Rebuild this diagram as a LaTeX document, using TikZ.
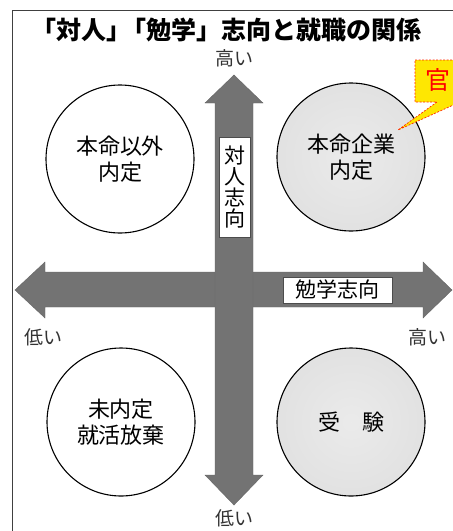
\documentclass[tikz,border=0pt]{standalone}
\usepackage{fontspec}
\setmainfont{Noto Sans CJK JP}
\newfontfamily\jp{Noto Sans CJK JP}
\pgfdeclareradialshading{ballwhite}{\pgfpoint{0bp}{0bp}}{color(0bp)=(white); color(32bp)=(white); color(42bp)=(black!12); color(47bp)=(black!30); color(50bp)=(black!60)}
\pgfdeclareradialshading{ballgray}{\pgfpoint{0bp}{0bp}}{color(0bp)=(black!8); color(28bp)=(black!12); color(40bp)=(black!22); color(47bp)=(black!38); color(50bp)=(black!62)}
\tikzset{
  ball/.style={circle, minimum size=148pt, inner sep=0pt, draw=black, line width=1.1pt, align=center, font=\jp\fontsize{22}{26}\selectfont},
  axislabel/.style={font=\jp\fontsize{19}{22}\selectfont, text=black!80, inner sep=0pt},
  arrowfill/.style={fill=black!55, draw=black!60, line width=0.4pt},
  tagbox/.style={fill=white, draw=black!70, line width=0.5pt, inner sep=0pt}
}
\begin{document}
\begin{tikzpicture}[x=1pt,y=-1pt]
\useasboundingbox (0,0) rectangle (453,531);
\clip (0,0) rectangle (453,531);
\fill[white] (0,0) rectangle (453,531);
% frame
\draw[line width=0.8pt, black!75] (12,531) -- (12,10) -- (460,10);
% title
\node[font=\jp\bfseries\fontsize{25}{26}\selectfont, inner sep=0pt, anchor=west] (title) at (31,30) {「対人」\kern-10pt「勉学」志向と就職の関係};
% circles
\node[ball, shading=ballwhite] (tl) at (120,159) {本命以外\\内定};
\node[ball, shading=ballgray] (tr) at (351,157) {本命企業\\内定};
\node[ball, shading=ballwhite] (bl) at (121,422) {未内定\\就活放棄};
\node[ball, shading=ballgray] (br) at (351,422) {受\hspace{22pt}験};
% horizontal arrow
\path[arrowfill] (15,290) -- (45,262) -- (45,272) -- (423,272) -- (423,262) -- (452,290) -- (423,318) -- (423,307) -- (45,307) -- (45,318) -- cycle;
% vertical arrow
\path[arrowfill] (234,75) -- (263,103) -- (253,103) -- (253,475) -- (263,475) -- (234,505) -- (205,475) -- (215,475) -- (215,103) -- (205,103) -- cycle;
% axis tags
\node[tagbox, minimum width=31pt, minimum height=100pt] (vtag) at (234.5,187) {};
\node[font=\jp\fontsize{21}{22}\selectfont, align=center, inner sep=0pt] (vtext) at (234.5,187) {対\\[-1pt]人\\[-1pt]志\\[-1pt]向};
\node[tagbox, minimum width=109pt, minimum height=26pt, font=\jp\fontsize{21}{22}\selectfont] (htag) at (337.5,290) {勉学志向};
% axis labels
\node[axislabel] (vhigh) at (234,58) {高い};
\node[axislabel] (vlow) at (234,518) {低い};
\node[axislabel] (hlow) at (43,337) {低い};
\node[axislabel] (hhigh) at (427,337) {高い};
% callout
\coordinate (ctip) at (398,130);
\path[fill=yellow!90!orange, draw=red!70!orange, dashed, dash pattern=on 2pt off 1.5pt, line width=0.7pt]
  (415,60) -- (475,60) -- (475,102) -- (460,102) -- (ctip) -- (437,102) -- (415,102) -- cycle;
\node[font=\jp\fontsize{25}{26}\selectfont, text=red, inner sep=0pt] (kan) at (438,80) {官};
\end{tikzpicture}
\end{document}
